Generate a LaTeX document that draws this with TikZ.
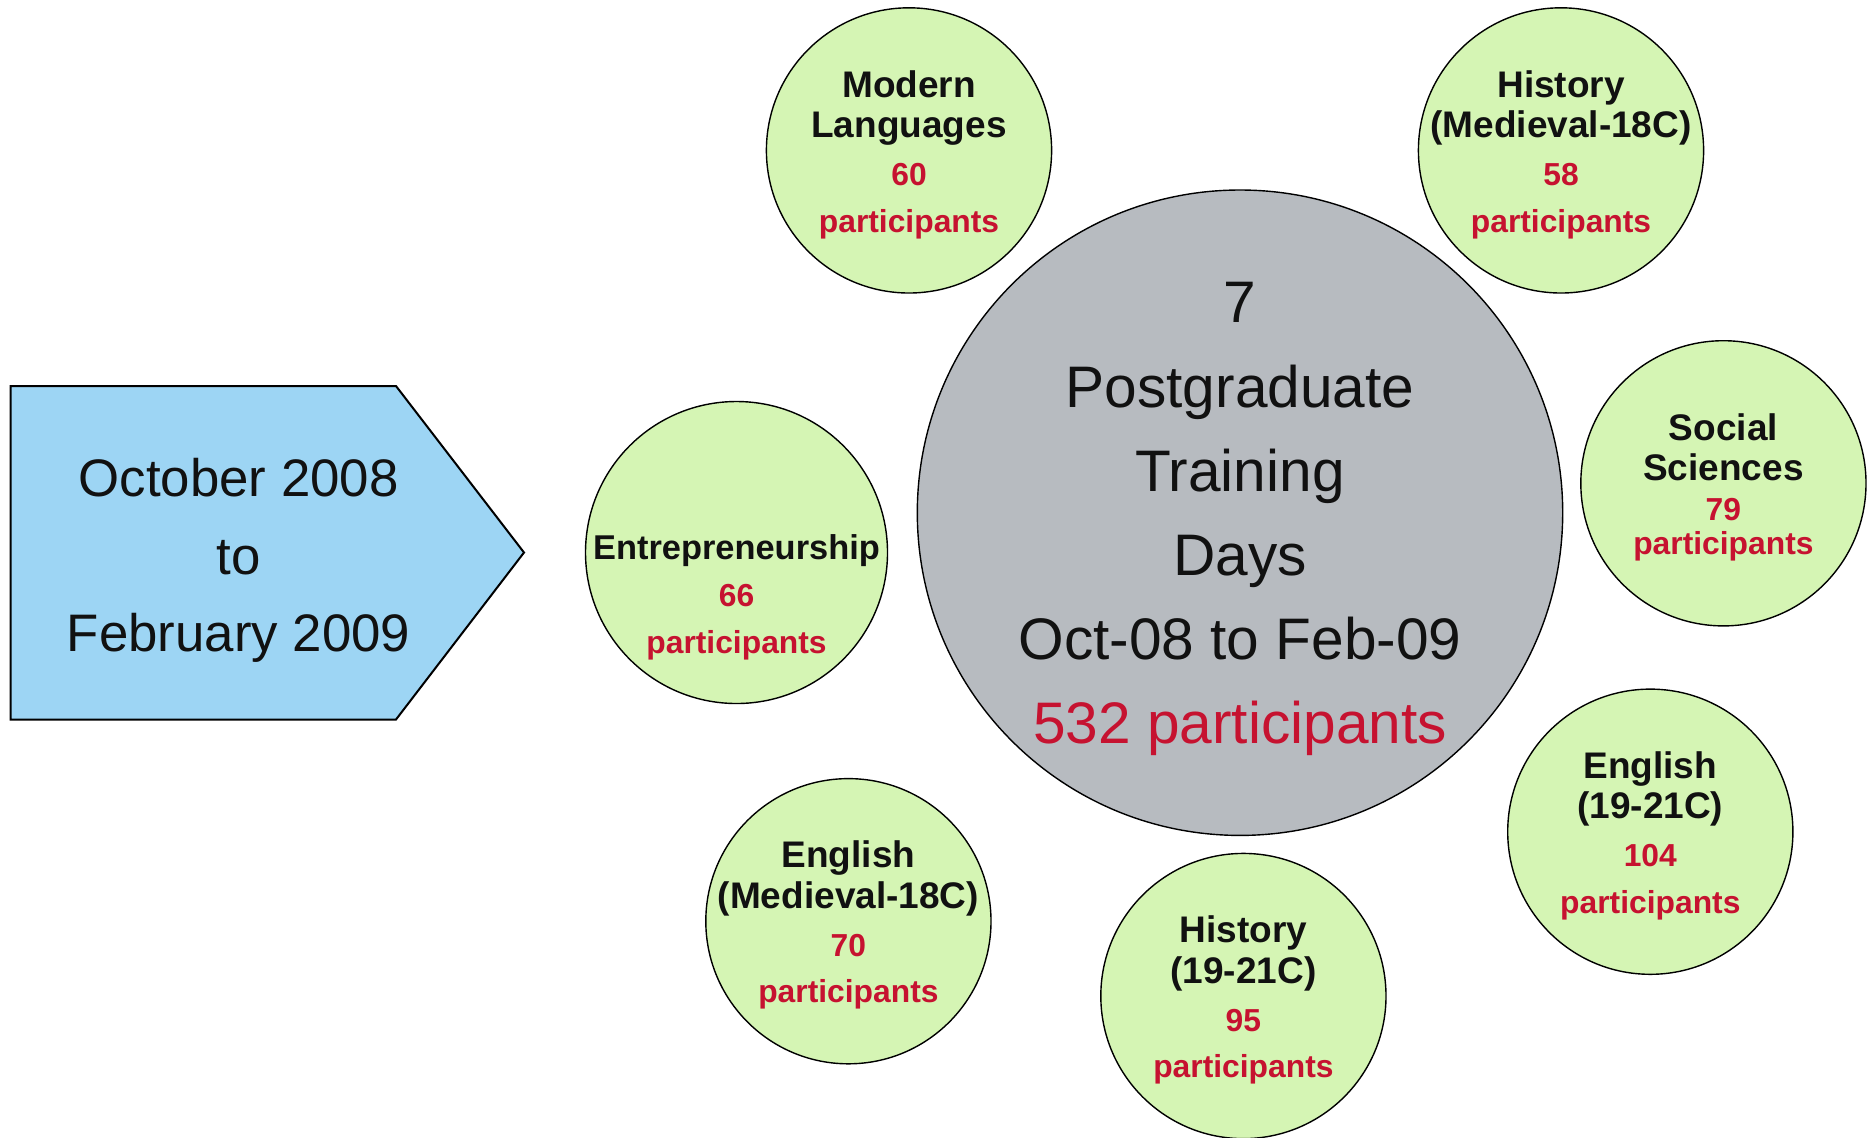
\documentclass[tikz,border=0pt]{standalone}
\usepackage{fontspec}
\setmainfont{Liberation Sans}

\definecolor{subjgreen}{RGB}{213,245,180}
\definecolor{daysgrey}{RGB}{183,187,192}
\definecolor{dateblue}{RGB}{157,213,244}
\definecolor{partred}{RGB}{198,18,48}
\definecolor{inkblack}{RGB}{17,17,17}

% participants in a subject circle: number, skip before it, skip before the word
\newcommand{\partfont}{\color{partred}\fontsize{15.9}{19}\selectfont}
\newcommand{\partcount}[3]{\\[#2]{\partfont #1}\\[#3]{\partfont participants}}

\begin{document}
\begin{tikzpicture}[x=0.5pt,y=-0.5pt]
% Configurable parameters
\def\dsub{142.6pt}	% diameter of a subject circle
\def\dent{151pt}	% diameter of the entrepreneurship circle
\def\ddays{322.7pt}	% diameter of the central circle

% Styles
\tikzstyle{subject}=[circle,draw,fill=subjgreen,line width=0.7pt,minimum size=\dsub,inner sep=0pt]
\tikzstyle{subjtext}=[align=center,text=inkblack,yshift=-2pt,font=\bfseries\fontsize{18.5}{20.3}\selectfont]
\tikzstyle{days}=[circle,draw,fill=daysgrey,line width=0.7pt,minimum size=\ddays,inner sep=0pt]
\tikzstyle{daystext}=[align=center,text=inkblack,yshift=-3.3pt,font=\fontsize{29.3}{42.1}\selectfont]
\tikzstyle{datebox}=[draw,fill=dateblue,line width=1pt,line join=miter]
\tikzstyle{datetext}=[align=center,text=inkblack,font=\fontsize{26.4}{38.8}\selectfont]

% Page size
\useasboundingbox (0,0) rectangle (1871,1137);

% Coordinates of the date arrow.
\coordinate (A) at (10.7,386);	% top left corner.
\coordinate (B) at (396,386);	% top shoulder.
\coordinate (C) at (524,552.5);	% tip.
\coordinate (D) at (396,719.5);	% bottom shoulder.
\coordinate (E) at (10.7,719.5);	% bottom left corner.

% Date arrow
\draw[datebox] (A) -- (B) -- (C) -- (D) -- (E) -- cycle;
\node[datetext] (period) at (238.6,560.4) {October 2008\\to\\February 2009};

% Central circle
\node[days] (pgtd) at (1240,512.7) {};
\node[daystext] (pgtd-t) at (pgtd) {7\\Postgraduate\\Training\\Days\\Oct-08 to Feb-09\\{\color{partred}532 participants}};

% Subject circles
\node[subject] (modlang) at (909,150.4) {};
\node[subjtext] (modlang-t) at (modlang) {Modern\\Languages\partcount{60}{3.6pt}{3pt}};

\node[subject] (histmed) at (1561,150.4) {};
\node[subjtext] (histmed-t) at (histmed) {History\\(Medieval-18C)\partcount{58}{3.6pt}{3pt}};

\node[subject] (socsci) at (1723.4,483.3) {};
\node[subjtext] (socsci-t) at (socsci) {Social\\Sciences\partcount{79}{-0.6pt}{-3pt}};

\node[subject,minimum size=\dent] (entre) at (736.5,552.5) {};
\node[subjtext,font=\bfseries\fontsize{17.2}{20.3}\selectfont] (entre-t) at ([yshift=-20.5pt]entre.center) {Entrepreneurship\partcount{66}{3pt}{3.6pt}};

\node[subject] (eng19) at (1650.3,831.7) {};
\node[subjtext] (eng19-t) at (eng19) {English\\(19-21C)\partcount{104}{3.6pt}{3pt}};

\node[subject] (hist19) at (1243.4,996) {};
\node[subjtext] (hist19-t) at (hist19) {History\\(19-21C)\partcount{95}{3.6pt}{3pt}};

\node[subject] (engmed) at (848.4,921.2) {};
\node[subjtext] (engmed-t) at (engmed) {English\\(Medieval-18C)\partcount{70}{3.6pt}{3pt}};
\end{tikzpicture}
\end{document}
